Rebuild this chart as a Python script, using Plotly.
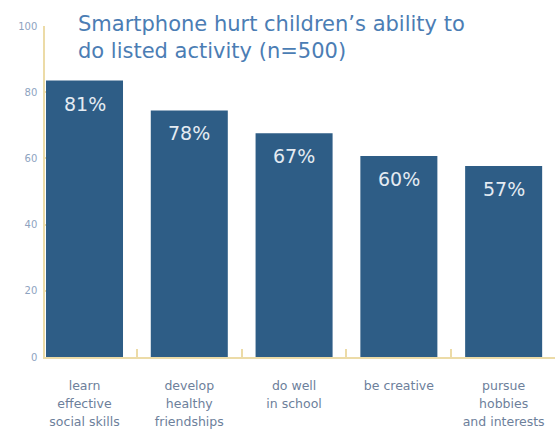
import plotly.graph_objects as go

# ---- data ----
category_lines = [
    ["learn", "effective", "social skills"],
    ["develop", "healthy", "friendships"],
    ["do well", "in school"],
    ["be creative"],
    ["pursue", "hobbies", "and interests"],
]
bar_values = [83.5, 74.5, 67.6, 60.7, 57.7]
value_labels = ["81%", "78%", "67%", "60%", "57%"]
y_tick_values = [0, 20, 40, 60, 80, 100]
title_lines = ["Smartphone hurt children\u2019s ability to", "do listed activity (n=500)"]

# ---- styles ----
BAR_COLOR = "#2e5d86"
AXIS_COLOR = "#ecdba7"
TICKLABEL_COLOR = "#8ea3bf"
CATLABEL_COLOR = "#6d809b"
TITLE_COLOR = "#4b7db4"
VALUE_TEXT_COLOR = "#e4ebf2"
FONT = "DejaVu Sans, Liberation Sans, Arial"

cat_keys = ["c%d" % i for i in range(len(category_lines))]
cat_text = [
    "<br>".join("<span style='font-size:12.5px'>%s</span>" % ln for ln in lines)
    for lines in category_lines
]

fig = go.Figure()
fig.add_trace(go.Bar(
    x=cat_keys,
    y=bar_values,
    marker=dict(color=BAR_COLOR, line=dict(width=0)),
    width=0.735,
    hoverinfo="skip",
))

for i, (v, lab) in enumerate(zip(bar_values, value_labels)):
    fig.add_annotation(
        x=i, y=v, xref="x", yref="y",
        text=lab, showarrow=False,
        yanchor="middle", yshift=-23,
        font=dict(family=FONT, size=19, color=VALUE_TEXT_COLOR),
    )

fig.add_annotation(
    xref="paper", yref="paper", x=0.06, y=1,
    xanchor="left", yanchor="top", yshift=16, align="left",
    text="<br>".join(title_lines), showarrow=False,
    font=dict(family=FONT, size=21, color=TITLE_COLOR),
)

fig.update_layout(
    width=557, height=433,
    margin=dict(l=45, r=2, t=26, b=76),
    paper_bgcolor="white", plot_bgcolor="white",
    showlegend=False,
    bargap=0.265,
    xaxis=dict(
        type="category",
        categoryorder="array", categoryarray=cat_keys,
        tickmode="array", tickvals=cat_keys, ticktext=cat_text,
        range=[-0.377, 4.49],
        showline=True, linecolor=AXIS_COLOR, linewidth=1.5,
        ticks="inside", tickson="boundaries", ticklen=8, tickcolor=AXIS_COLOR, tickwidth=1.5,
        tickfont=dict(family=FONT, size=14, color=CATLABEL_COLOR),
        ticklabelstandoff=14,
        showgrid=False, zeroline=False, layer="below traces",
        fixedrange=True,
    ),
    yaxis=dict(
        range=[0, 100],
        tickmode="array", tickvals=y_tick_values,
        showline=True, linecolor=AXIS_COLOR, linewidth=1.5,
        ticks="inside", ticklen=11, tickcolor=AXIS_COLOR, tickwidth=1.5,
        tickfont=dict(family=FONT, size=10, color=TICKLABEL_COLOR),
        ticklabelstandoff=4,
        showgrid=False, zeroline=False, layer="below traces",
        fixedrange=True,
    ),
)

fig.write_html("out.html")
